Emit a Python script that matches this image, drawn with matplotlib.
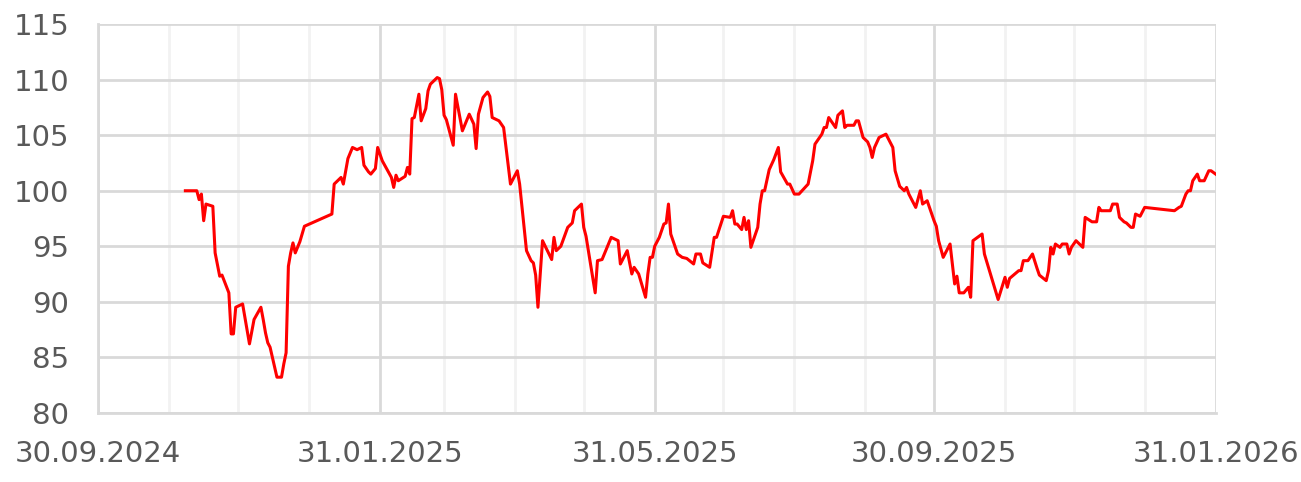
import pandas as pd
import matplotlib
matplotlib.use('Agg')
import matplotlib.pyplot as plt
import matplotlib.dates as mdates

# Index level, rebased to 100
dates = ['2024-11-07', '2024-11-12', '2024-11-13', '2024-11-14', '2024-11-15', '2024-11-16',
         '2024-11-19', '2024-11-20', '2024-11-22', '2024-11-23', '2024-11-26', '2024-11-27',
         '2024-11-28', '2024-11-29', '2024-12-02', '2024-12-04', '2024-12-05', '2024-12-07',
         '2024-12-10', '2024-12-11', '2024-12-12', '2024-12-13', '2024-12-14', '2024-12-17',
         '2024-12-19', '2024-12-20', '2024-12-21', '2024-12-22', '2024-12-23', '2024-12-24',
         '2024-12-25', '2024-12-27', '2024-12-29', '2025-01-10', '2025-01-11', '2025-01-14',
         '2025-01-15', '2025-01-17', '2025-01-19', '2025-01-21', '2025-01-23', '2025-01-24',
         '2025-01-26', '2025-01-27', '2025-01-29', '2025-01-30', '2025-02-01', '2025-02-05',
         '2025-02-06', '2025-02-07', '2025-02-08', '2025-02-11', '2025-02-12', '2025-02-13',
         '2025-02-14', '2025-02-15', '2025-02-17', '2025-02-18', '2025-02-20', '2025-02-21',
         '2025-02-22', '2025-02-25', '2025-02-26', '2025-02-27', '2025-02-28', '2025-03-01',
         '2025-03-04', '2025-03-05', '2025-03-08', '2025-03-11', '2025-03-13', '2025-03-14',
         '2025-03-15', '2025-03-17', '2025-03-19', '2025-03-20', '2025-03-21', '2025-03-24',
         '2025-03-26', '2025-03-29', '2025-04-01', '2025-04-02', '2025-04-05', '2025-04-07',
         '2025-04-08', '2025-04-09', '2025-04-10', '2025-04-12', '2025-04-16', '2025-04-17',
         '2025-04-18', '2025-04-20', '2025-04-23', '2025-04-25', '2025-04-26', '2025-04-29',
         '2025-04-30', '2025-05-01', '2025-05-05', '2025-05-06', '2025-05-08', '2025-05-12',
         '2025-05-14', '2025-05-15', '2025-05-16', '2025-05-19', '2025-05-21', '2025-05-22',
         '2025-05-24', '2025-05-27', '2025-05-28', '2025-05-29', '2025-05-30', '2025-05-31',
         '2025-06-02', '2025-06-04', '2025-06-05', '2025-06-06', '2025-06-07', '2025-06-10',
         '2025-06-12', '2025-06-14', '2025-06-17', '2025-06-18', '2025-06-20', '2025-06-21',
         '2025-06-24', '2025-06-26', '2025-06-27', '2025-06-30', '2025-07-03', '2025-07-04',
         '2025-07-05', '2025-07-06', '2025-07-08', '2025-07-09', '2025-07-10', '2025-07-11',
         '2025-07-12', '2025-07-15', '2025-07-16', '2025-07-17', '2025-07-18', '2025-07-20',
         '2025-07-22', '2025-07-24', '2025-07-25', '2025-07-28', '2025-07-29', '2025-07-31',
         '2025-08-02', '2025-08-06', '2025-08-08', '2025-08-09', '2025-08-12', '2025-08-13',
         '2025-08-14', '2025-08-15', '2025-08-18', '2025-08-19', '2025-08-21', '2025-08-22',
         '2025-08-23', '2025-08-26', '2025-08-27', '2025-08-28', '2025-08-30', '2025-09-01',
         '2025-09-02', '2025-09-03', '2025-09-04', '2025-09-06', '2025-09-09', '2025-09-12',
         '2025-09-13', '2025-09-15', '2025-09-17', '2025-09-18', '2025-09-19', '2025-09-22',
         '2025-09-24', '2025-09-25', '2025-09-27', '2025-09-30', '2025-10-01', '2025-10-02',
         '2025-10-04', '2025-10-07', '2025-10-09', '2025-10-10', '2025-10-11', '2025-10-13',
         '2025-10-15', '2025-10-16', '2025-10-17', '2025-10-21', '2025-10-22', '2025-10-28',
         '2025-10-31', '2025-11-01', '2025-11-02', '2025-11-06', '2025-11-07', '2025-11-08',
         '2025-11-10', '2025-11-12', '2025-11-14', '2025-11-15', '2025-11-18', '2025-11-19',
         '2025-11-20', '2025-11-21', '2025-11-22', '2025-11-24', '2025-11-25', '2025-11-27',
         '2025-11-28', '2025-11-29', '2025-12-01', '2025-12-04', '2025-12-05', '2025-12-08',
         '2025-12-10', '2025-12-11', '2025-12-12', '2025-12-16', '2025-12-17', '2025-12-19',
         '2025-12-20', '2025-12-22', '2025-12-23', '2025-12-25', '2025-12-26', '2025-12-27',
         '2025-12-29', '2025-12-31', '2026-01-13', '2026-01-15', '2026-01-16', '2026-01-18',
         '2026-01-19', '2026-01-20', '2026-01-21', '2026-01-23', '2026-01-24', '2026-01-26',
         '2026-01-28', '2026-01-29', '2026-01-31']

values = [100.0, 100.0, 99.2, 99.7, 97.3, 98.8,
          98.6, 94.4, 92.3, 92.4, 90.8, 87.1,
          87.1, 89.5, 89.8, 87.4, 86.2, 88.4,
          89.5, 88.4, 87.2, 86.3, 85.9, 83.2,
          83.2, 84.4, 85.4, 93.2, 94.4, 95.3,
          94.4, 95.4, 96.8, 97.9, 100.6, 101.2,
          100.6, 102.9, 103.9, 103.7, 103.9, 102.3,
          101.7, 101.5, 102.0, 103.9, 102.7, 101.2,
          100.3, 101.4, 100.9, 101.3, 102.1, 101.5,
          106.5, 106.6, 108.7, 106.3, 107.4, 109.0,
          109.6, 110.2, 110.1, 109.1, 106.8, 106.4,
          104.1, 108.7, 105.4, 106.9, 106.0, 103.8,
          106.9, 108.4, 108.9, 108.5, 106.6, 106.3,
          105.7, 100.6, 101.8, 100.6, 94.6, 93.7,
          93.5, 92.4, 89.5, 95.5, 93.8, 95.8,
          94.6, 95.0, 96.7, 97.1, 98.2, 98.8,
          96.7, 95.9, 90.8, 93.7, 93.8, 95.8,
          95.6, 95.5, 93.4, 94.6, 92.5, 93.1,
          92.5, 90.4, 92.5, 94.0, 94.0, 95.0,
          95.8, 97.0, 97.1, 98.8, 96.1, 94.3,
          94.0, 93.9, 93.4, 94.3, 94.3, 93.5,
          93.1, 95.8, 95.8, 97.7, 97.6, 98.2,
          97.0, 97.0, 96.5, 97.6, 96.5, 97.3,
          94.9, 96.7, 98.8, 100.0, 100.0, 101.9,
          102.8, 103.9, 101.7, 100.6, 100.6, 99.7,
          99.7, 100.6, 102.7, 104.2, 105.1, 105.7,
          105.7, 106.6, 105.7, 106.8, 107.2, 105.7,
          105.9, 105.9, 106.3, 106.3, 104.8, 104.4,
          103.9, 103.0, 103.9, 104.8, 105.1, 103.9,
          101.8, 100.4, 100.0, 100.3, 99.7, 98.5,
          100.0, 98.8, 99.1, 97.3, 96.8, 95.5,
          94.0, 95.2, 91.6, 92.3, 90.8, 90.8,
          91.3, 90.4, 95.5, 96.1, 94.3, 90.2,
          92.2, 91.3, 92.1, 92.8, 92.8, 93.7,
          93.7, 94.3, 93.0, 92.4, 91.9, 92.8,
          94.9, 94.3, 95.2, 94.9, 95.2, 95.2,
          94.3, 94.9, 95.5, 94.9, 97.6, 97.2,
          97.2, 98.5, 98.2, 98.2, 98.8, 98.8,
          97.6, 97.2, 97.1, 96.7, 96.7, 97.9,
          97.7, 98.5, 98.2, 98.5, 98.6, 99.7,
          100.0, 100.0, 100.9, 101.5, 100.9, 100.9,
          101.8, 101.8, 101.5]

x_start = '2024-09-30'
x_end = '2026-01-31'
labeled_ticks = ['2024-09-30', '2025-01-31', '2025-05-31', '2025-09-30', '2026-01-31']
y_ticks = [80, 85, 90, 95, 100, 105, 110, 115]

txtcol = '#595959'
grid_major = '#d9d9d9'
grid_minor = '#f2f2f2'

fig = plt.figure(figsize=(13.01, 4.82), dpi=100)
ax = fig.add_axes([0.0756, 0.1438, 0.8588, 0.8058])

ax.plot(pd.to_datetime(dates), values, color='#ff0000', lw=2.2, zorder=3)

ax.set_xlim(pd.Timestamp(x_start), pd.Timestamp(x_end))
ax.set_ylim(80, 115)
ax.set_yticks(y_ticks)

# month-end gridlines, labelled every four months
month_ends = pd.date_range(x_start, x_end, freq='ME')
ax.set_xticks(pd.to_datetime(labeled_ticks))
ax.set_xticks(month_ends, minor=True)
ax.xaxis.set_major_formatter(mdates.DateFormatter('%d.%m.%Y'))

ax.grid(axis='x', which='minor', color=grid_minor, lw=2, zorder=0)
ax.grid(axis='x', which='major', color=grid_major, lw=2, zorder=1)
ax.grid(axis='y', which='major', color=grid_major, lw=2, zorder=1)
ax.set_axisbelow(True)

for side in ['top', 'right']:
    ax.spines[side].set_visible(False)
for side in ['left', 'bottom']:
    ax.spines[side].set_color(grid_major)
    ax.spines[side].set_linewidth(2)

ax.tick_params(axis='both', which='both', length=0, labelsize=21, labelcolor=txtcol)
ax.tick_params(axis='x', pad=20)
ax.tick_params(axis='y', pad=21)

fig.savefig('out.png', dpi=100)
